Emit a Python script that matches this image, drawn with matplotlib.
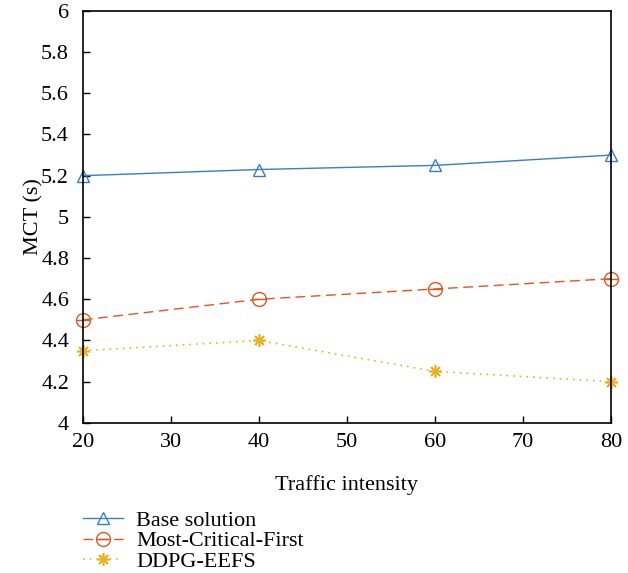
import matplotlib.pyplot as plt

plt.rcParams['font.family'] = ['Liberation Serif', 'DejaVu Serif']

traffic = [20, 40, 60, 80]
base_solution = [5.20, 5.23, 5.25, 5.30]
most_critical_first = [4.50, 4.60, 4.65, 4.70]
ddpg_eefs = [4.35, 4.40, 4.25, 4.20]

fig = plt.figure(figsize=(6.28, 5.73), dpi=100)
ax = fig.add_axes([0.132, 0.262, 0.841, 0.719])

blue, orange, yellow = '#3A7DC4', '#E2561E', '#EDB120'

l1, = ax.plot(traffic, base_solution, color=blue, linestyle='-', linewidth=1,
              marker='^', markersize=9, markerfacecolor='none', markeredgewidth=1,
              clip_on=False)
l2, = ax.plot(traffic, most_critical_first, color=orange, linestyle=(0, (7, 4)), linewidth=1,
              marker='o', markersize=10, markerfacecolor='none', markeredgewidth=1,
              clip_on=False)
l2b, = ax.plot(traffic, most_critical_first, color=orange, linestyle='none',
               marker='_', markersize=10, markeredgewidth=1, clip_on=False)
l3, = ax.plot(traffic, ddpg_eefs, color=yellow, linestyle=(0, (1, 3)), linewidth=1.2,
              marker=(8, 2, 0), markersize=9, markeredgewidth=1.2, clip_on=False)

ax.set_xlim(20, 80)
ax.set_ylim(4, 6)
ax.set_xticks([20, 30, 40, 50, 60, 70, 80])
ax.set_yticks([4, 4.2, 4.4, 4.6, 4.8, 5, 5.2, 5.4, 5.6, 5.8, 6])
ax.set_yticklabels(['4', '4.2', '4.4', '4.6', '4.8', '5', '5.2', '5.4', '5.6', '5.8', '6'])
ax.tick_params(direction='in', labelsize=16, length=5, width=1)
ax.tick_params(axis='y', pad=10)
ax.tick_params(axis='x', pad=7)
for s in ax.spines.values():
    s.set_linewidth(1.2)

ax.set_xlabel('Traffic intensity', fontsize=16, labelpad=17)
ax.set_ylabel('MCT (s)', fontsize=16, labelpad=-2)

ax.legend([l1, (l2, l2b), l3], ['Base solution', 'Most-Critical-First', 'DDPG-EEFS'],
          loc='upper left', bbox_to_anchor=(0.0, -0.212), frameon=False,
          fontsize=16, handlelength=1.8, labelspacing=0.0, borderaxespad=0,
          handletextpad=0.6, borderpad=0)

fig.savefig('out.png', dpi=100)
